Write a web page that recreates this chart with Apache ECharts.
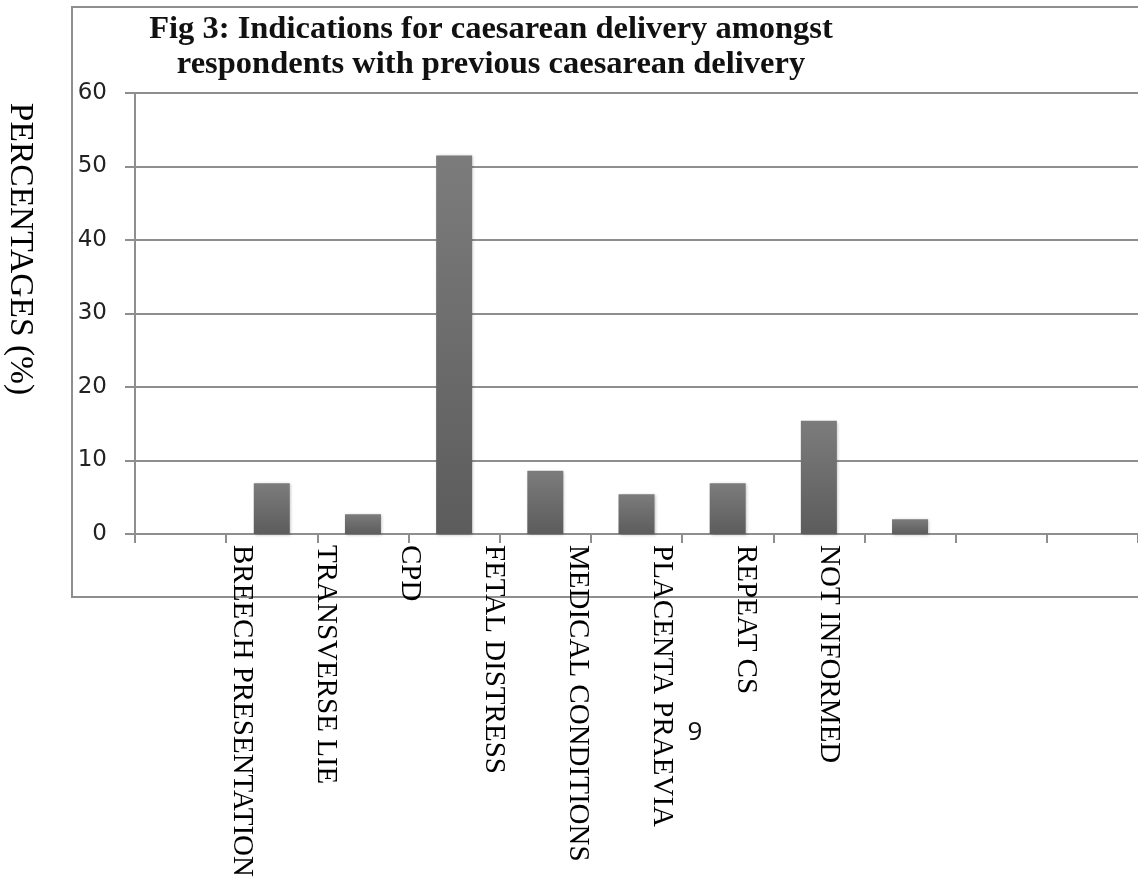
<!DOCTYPE html>
<html>
<head>
<meta charset="utf-8">
<title>Fig 3</title>
<script src="https://cdn.jsdelivr.net/npm/echarts@6/dist/echarts.min.js"></script>
<style>
  html, body { margin: 0; padding: 0; background: #fff; }
  #main { width: 1138px; height: 884px; }
</style>
</head>
<body>
<div id="main"></div>
<script>
// indications, in the order the labels are printed under the axis
var indications = [
  "BREECH PRESENTATION",
  "TRANSVERSE LIE",
  "CPD",
  "FETAL DISTRESS",
  "MEDICAL CONDITIONS",
  "PLACENTA PRAEVIA",
  "REPEAT CS",
  "NOT INFORMED",
];
// bar heights (%), left to right
var percentages = [6.9, 2.7, 51.5, 8.6, 5.4, 6.9, 15.4, 2.0];
// the axis has 11 slots: one empty before the bars, two empty after
var slotNames = ["s1", "s2", "s3", "s4", "s5", "s6", "s7", "s8", "s9", "s10", "s11"];
var emptyBefore = 1;
var yTicks = { min: 0, max: 60, interval: 10 };

var titleText =
  "Fig 3: Indications for caesarean delivery amongst\nrespondents with previous caesarean delivery";
var yName = "PERCENTAGES (%)";
var pageNo = "9";

var barData = [];
slotNames.forEach(function (name, i) {
  var k = i - emptyBefore;
  barData.push(k >= 0 && k < percentages.length ? percentages[k] : "-");
});

var gridGray = "#8e8e8e";

var chartDom = document.getElementById("main");
var myChart = echarts.init(chartDom, null, { renderer: "canvas" });
var option;
option = {
  backgroundColor: "#fff",
  animation: false,
  title: {
    text: titleText,
    left: 491,
    top: 12,
    padding: 0,
    textAlign: "center",
    textStyle: {
      fontFamily: "Liberation Serif",
      fontWeight: "bold",
      fontSize: 32.5,
      lineHeight: 35,
      color: "#111",
    },
  },
  grid: [
    { left: 135, right: -9, top: 93, bottom: 350 },
    // second grid only carries the printed labels (they sit off the slots)
    { left: 242, right: 309, top: 93, bottom: 350 },
  ],
  xAxis: [
    {
      type: "category",
      gridIndex: 0,
      data: slotNames,
      axisLine: { show: true, lineStyle: { color: gridGray, width: 2 } },
      axisTick: {
        show: true,
        interval: 0,
        length: 9,
        lineStyle: { color: gridGray, width: 2 },
      },
      axisLabel: { show: false },
    },
    {
      type: "category",
      gridIndex: 1,
      boundaryGap: false,
      data: indications,
      axisLine: { show: false },
      axisTick: { show: false },
      axisLabel: {
        interval: 0,
        rotate: -90,
        margin: 11,
        fontFamily: "Liberation Serif",
        fontSize: 29,
        color: "#000",
      },
    },
  ],
  yAxis: [
    {
      type: "value",
      gridIndex: 0,
      min: yTicks.min,
      max: yTicks.max,
      interval: yTicks.interval,
      axisLine: { show: true, lineStyle: { color: gridGray, width: 2 } },
      axisTick: { show: true, length: 10, lineStyle: { color: gridGray, width: 2 } },
      splitLine: { show: true, lineStyle: { color: gridGray, width: 2 } },
      axisLabel: {
        margin: 28,
        fontFamily: "DejaVu Sans",
        fontSize: 23,
        color: "#222",
      },
    },
    {
      type: "value",
      gridIndex: 1,
      show: false,
      min: yTicks.min,
      max: yTicks.max,
    },
  ],
  series: [
    {
      type: "bar",
      xAxisIndex: 0,
      yAxisIndex: 0,
      data: barData,
      barWidth: 36,
      itemStyle: {
        color: new echarts.graphic.LinearGradient(0, 0, 0, 1, [
          { offset: 0, color: "#7c7c7c" },
          { offset: 1, color: "#5c5c5c" },
        ]),
        shadowBlur: 3,
        shadowColor: "rgba(0,0,0,0.25)",
        shadowOffsetX: 1,
        shadowOffsetY: 1,
      },
    },
  ],
  graphic: [
    {
      type: "rect",
      shape: { x: 72, y: 7, width: 1090, height: 590 },
      style: { fill: null, stroke: gridGray, lineWidth: 2 },
      silent: true,
      z: -1,
    },
    {
      type: "text",
      x: 20,
      y: 249,
      rotation: -Math.PI / 2,
      style: {
        text: yName,
        fontFamily: "Liberation Serif",
        fontSize: 33.5,
        fill: "#000",
        align: "center",
        verticalAlign: "middle",
      },
    },
    {
      type: "text",
      x: 695,
      y: 733,
      style: {
        text: pageNo,
        fontFamily: "Open Sans",
        fontSize: 26,
        fill: "#111",
        align: "center",
        verticalAlign: "middle",
      },
    },
  ],
};

option && myChart.setOption(option);
</script>
</body>
</html>
